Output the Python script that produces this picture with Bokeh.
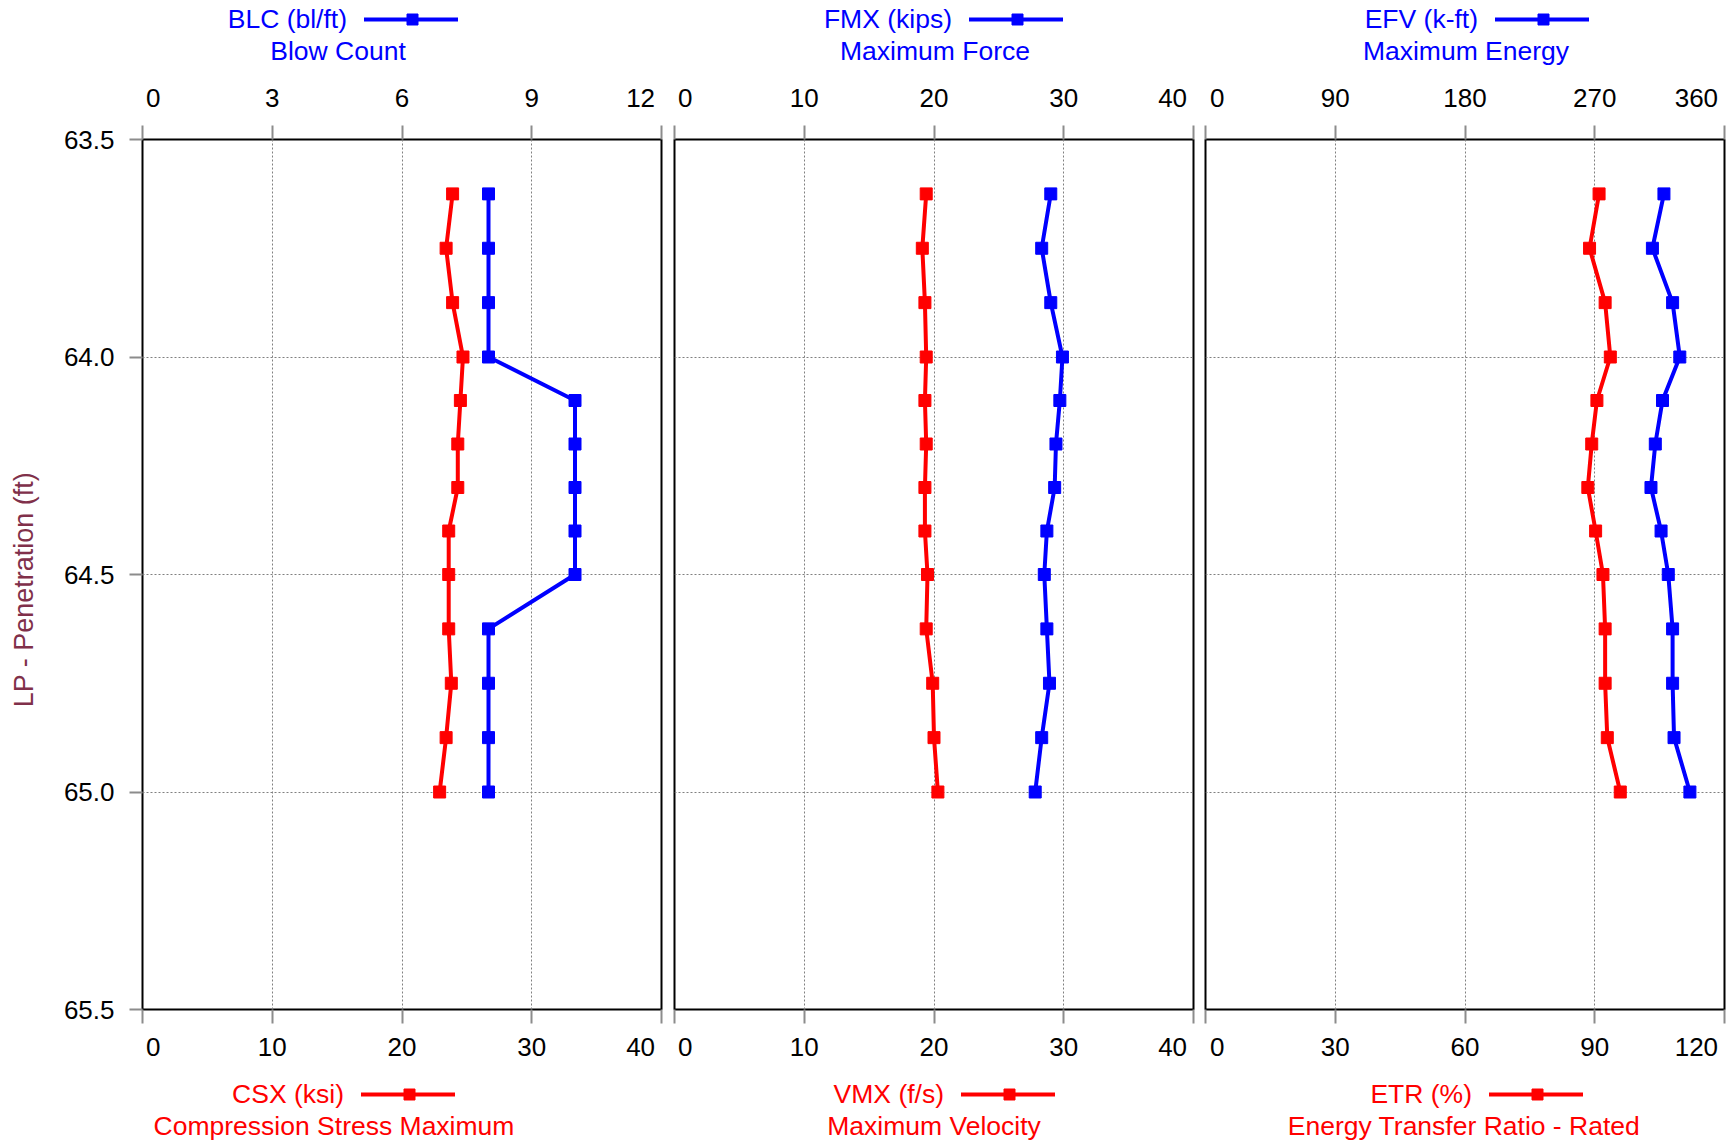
from bokeh.plotting import figure
from bokeh.models import Range1d, LinearAxis, FixedTicker, NumeralTickFormatter
from bokeh.layouts import row, column
from bokeh.embed import file_html
from bokeh.resources import INLINE
from bokeh.core.properties import value

# ---------------- data ----------------
depth = [63.625, 63.75, 63.875, 64.0, 64.1, 64.2, 64.3, 64.4, 64.5, 64.625, 64.75, 64.875, 65.0]
blc = [8, 8, 8, 8, 10, 10, 10, 10, 10, 8, 8, 8, 8]
csx = [23.9, 23.4, 23.9, 24.7, 24.5, 24.3, 24.3, 23.6, 23.6, 23.6, 23.8, 23.4, 22.9]
fmx = [29.0, 28.3, 29.0, 29.9, 29.7, 29.4, 29.3, 28.7, 28.5, 28.7, 28.9, 28.3, 27.8]
vmx = [19.4, 19.1, 19.3, 19.4, 19.3, 19.4, 19.3, 19.3, 19.5, 19.4, 19.9, 20.0, 20.3]
efv = [318, 310, 324, 329, 317, 312, 309, 316, 321, 324, 324, 325, 336]
etr = [91.0, 88.8, 92.4, 93.6, 90.5, 89.3, 88.4, 90.2, 91.9, 92.4, 92.4, 92.9, 95.9]

y_ticks = [63.5, 64.0, 64.5, 65.0, 65.5]
blc_ticks = [0, 3, 6, 9, 12]
csx_ticks = [0, 10, 20, 30, 40]
fmx_ticks = [0, 10, 20, 30, 40]
vmx_ticks = [0, 10, 20, 30, 40]
efv_ticks = [0, 90, 180, 270, 360]
etr_ticks = [0, 30, 60, 90, 120]

top_names = ["BLC (bl/ft)", "FMX (kips)", "EFV (k-ft)"]
top_descs = ["Blow Count", "Maximum Force", "Maximum Energy"]
bot_names = ["CSX (ksi)", "VMX (f/s)", "ETR (%)"]
bot_descs = ["Compression Stress Maximum", "Maximum Velocity", "Energy Transfer Ratio - Rated"]
y_title = "LP - Penetration (ft)"

top_series = [blc, fmx, efv]
bot_series = [csx, vmx, etr]
top_tick_sets = [blc_ticks, fmx_ticks, efv_ticks]
bot_tick_sets = [csx_ticks, vmx_ticks, etr_ticks]

# ---------------- style ----------------
FONT = "Liberation Sans"
BLUE = "#0000FF"
RED = "#FF0000"
TICK_GRAY = "#8c8c8c"
GRID_GRAY = "#808080"
YTITLE_COLOR = "#80304a"
NB = "\u00a0"
TH = "\u2009"
LEG_FS = "26.5px"

FW, FH = 519, 870
TOP_LEG_H = 68
BORDER_TOP = 71
BORDER_BOT = 56
BOT_LEG_H = 80
borders = [(142, 6), (7, 6), (6, 8)]
TOTAL_W = sum(l + FW + r for l, r in borders)

# padding that nudges the end labels inward (the axis keeps them in its canvas)
lo_pad = [NB * 3, TH * 2, TH * 2]
hi_pad = [NB + TH, NB + TH, NB * 2]

panels = []
for i in range(3):
    ml, mr = borders[i]
    tt = top_tick_sets[i]
    bt = bot_tick_sets[i]
    p = figure(frame_width=FW, frame_height=FH, title=None,
               min_border_left=ml, min_border_right=mr,
               min_border_top=BORDER_TOP, min_border_bottom=BORDER_BOT,
               x_range=Range1d(bt[0], bt[-1]), y_range=Range1d(y_ticks[-1], y_ticks[0]),
               x_axis_location="below", y_axis_location="left" if i == 0 else None,
               toolbar_location=None, output_backend="svg")
    p.extra_x_ranges = {"top": Range1d(tt[0], tt[-1])}
    p.add_layout(LinearAxis(x_range_name="top", ticker=FixedTicker(ticks=tt)), "above")
    for ax in p.xaxis:
        ax.axis_line_color = None
        ax.major_tick_line_color = TICK_GRAY
        ax.major_tick_line_width = 2
        ax.major_tick_out = 14
        ax.major_tick_in = 0
        ax.minor_tick_line_color = None
        ax.major_label_text_font = FONT
        ax.major_label_text_font_size = "26px"
        ax.major_label_text_color = "black"
    bax = p.below[0]
    bax.ticker = FixedTicker(ticks=bt)
    bax.major_label_standoff = 8
    bax.major_label_overrides = {bt[0]: lo_pad[i] + str(bt[0]), bt[-1]: str(bt[-1]) + hi_pad[i]}
    tax = p.above[0]
    tax.major_label_standoff = 13
    tax.major_label_overrides = {tt[0]: lo_pad[i] + str(tt[0]), tt[-1]: str(tt[-1]) + hi_pad[i]}

    if i == 0:
        yax = p.yaxis[0]
        yax.ticker = FixedTicker(ticks=y_ticks)
        yax.formatter = NumeralTickFormatter(format="0.0")
        yax.axis_line_color = None
        yax.major_tick_line_color = TICK_GRAY
        yax.major_tick_line_width = 2
        yax.major_tick_out = 13
        yax.major_tick_in = 0
        yax.minor_tick_line_color = None
        yax.major_label_standoff = 15
        yax.major_label_text_font = FONT
        yax.major_label_text_font_size = "26px"
        yax.major_label_text_color = "black"
        # trailing no-break spaces move the title slightly down, as in the original
        yax.axis_label = y_title + NB * 4
        yax.axis_label_text_font = FONT
        yax.axis_label_text_font_size = "27px"
        yax.axis_label_text_font_style = "normal"
        yax.axis_label_text_color = YTITLE_COLOR
        yax.axis_label_standoff = 22

    p.xgrid.ticker = FixedTicker(ticks=bt)
    p.ygrid.ticker = FixedTicker(ticks=y_ticks)
    for g in (p.xgrid, p.ygrid):
        g.grid_line_color = GRID_GRAY
        g.grid_line_dash = "2 2"
        g.grid_line_width = 1

    p.outline_line_color = "black"
    p.outline_line_width = 2
    p.background_fill_color = "white"
    p.border_fill_color = "white"

    p.line(x=bot_series[i], y=depth, color=RED, line_width=4)
    p.scatter(x=bot_series[i], y=depth, marker="square", size=12, color=RED)
    p.line(x=top_series[i], y=depth, x_range_name="top", color=BLUE, line_width=4)
    p.scatter(x=top_series[i], y=depth, x_range_name="top", marker="square", size=12, color=BLUE)
    panels.append(p)

# frame centres on the canvas
centers = []
xpos = 0
for l, r in borders:
    centers.append(xpos + l + FW / 2)
    xpos += l + FW + r

# legend layout offsets relative to each frame centre
top_text_end = [-55, 18, 13]
top_desc_ctr = [-64, 1, 1]
bot_text_end = [-58, 10, 7]
bot_desc_ctr = [-68, 0, -1]
LINE_GAP, LINE_LEN = 17, 94


def legend_fig(h, names, descs, text_end, desc_ctr, color, y1, y2, yline):
    f = figure(width=TOTAL_W, height=h, title=None,
               x_range=Range1d(0, TOTAL_W), y_range=Range1d(h, 0),
               min_border=0, min_border_left=0, min_border_right=0,
               min_border_top=0, min_border_bottom=0,
               x_axis_location=None, y_axis_location=None,
               toolbar_location=None, output_backend="svg")
    f.grid.visible = False
    f.outline_line_color = None
    f.background_fill_color = "white"
    f.border_fill_color = "white"
    xs_end = [c + o for c, o in zip(centers, text_end)]
    f.text(x=xs_end, y=[y1] * 3, text=names, text_align="right", text_baseline="alphabetic",
           text_font=value(FONT), text_font_size=LEG_FS, text_color=color)
    f.text(x=[c + o for c, o in zip(centers, desc_ctr)], y=[y2] * 3, text=descs,
           text_align="center", text_baseline="alphabetic",
           text_font=value(FONT), text_font_size=LEG_FS, text_color=color)
    for xe in xs_end:
        x0 = xe + LINE_GAP
        f.line(x=[x0, x0 + LINE_LEN], y=[yline, yline], color=color, line_width=4)
        f.scatter(x=[x0 + LINE_LEN / 2 + 1.5], y=[yline], marker="square", size=11, color=color)
    return f


top_leg = legend_fig(TOP_LEG_H, top_names, top_descs, top_text_end, top_desc_ctr, BLUE, 18, 50, 19)
bot_leg = legend_fig(BOT_LEG_H, bot_names, bot_descs, bot_text_end, bot_desc_ctr, RED, 28, 60, 29)

layout = column(top_leg, row(*panels, spacing=0), bot_leg, spacing=0)
open("out.html", "w").write(file_html(layout, INLINE))
